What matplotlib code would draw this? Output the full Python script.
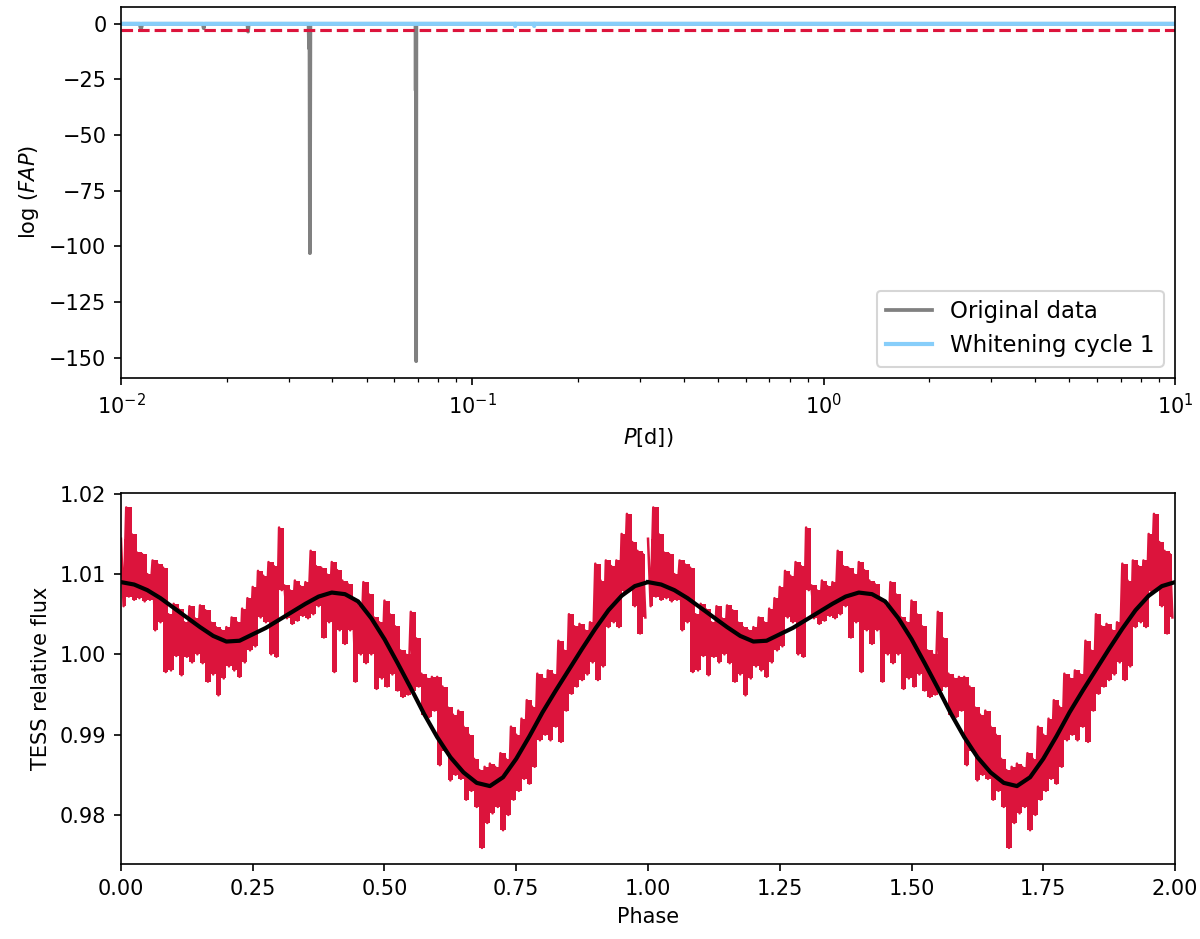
import numpy as np
import matplotlib
matplotlib.use("Agg")
import matplotlib.pyplot as plt

# periodogram (log FAP)
gray_period = [0.01, 0.0113, 0.0114, 0.0115, 0.0171, 0.0172, 0.0173, 0.0229, 0.0230, 0.0231,
               0.0342, 0.0343, 0.0344, 0.0345, 0.0346, 0.0689, 0.0690, 0.0691, 0.0692, 0.0693, 10.0]
gray_logfap = [0, 0, -2.5, 0, 0, -2.0, 0, 0, -3.5, 0,
               0, -11, 0, -103, 0, 0, -30, 0, -151.5, 0, 0]

blue_period = [0.01, 0.1323, 0.1324, 0.1325, 0.1499, 0.1500, 0.1501, 10.0]
blue_logfap = [0, 0, -1.0, 0, 0, -1.0, 0, 0]

fap_threshold = -3

# phase-folded light curve, one cycle (phase 0.00 .. 0.99), upper / lower edge of the scatter
phase = np.arange(100) / 100
flux_hi = [1.0144, 1.0183, 1.0150, 1.0127, 1.0125, 1.0100, 1.0117, 1.0112, 1.0108, 1.0050,
           1.0063, 1.0056, 1.0040, 1.0060, 1.0045, 1.0061, 1.0055, 1.0040, 1.0034, 1.0030,
           1.0034, 1.0046, 1.0040, 1.0057, 1.0070, 1.0084, 1.0104, 1.0098, 1.0115, 1.0110,
           1.0158, 1.0086, 1.0080, 1.0092, 1.0085, 1.0090, 1.0129, 1.0110, 1.0108, 1.0100,
           1.0115, 1.0105, 1.0092, 1.0088, 1.0067, 1.0060, 1.0090, 1.0075, 1.0046, 1.0040,
           1.0067, 1.0050, 1.0035, 1.0005, 1.0000, 1.0053, 1.0020, 0.9976, 0.9970, 0.9972,
           0.9972, 0.9960, 0.9934, 0.9925, 0.9930, 0.9910, 0.9900, 0.9870, 0.9856, 0.9860,
           0.9864, 0.9860, 0.9877, 0.9870, 0.9910, 0.9900, 0.9920, 0.9943, 0.9935, 0.9976,
           0.9970, 0.9980, 0.9975, 1.0017, 1.0005, 1.0050, 1.0035, 1.0038, 1.0030, 1.0040,
           1.0113, 1.0092, 1.0117, 1.0110, 1.0117, 1.0150, 1.0175, 1.0140, 1.0129, 1.0125]
flux_lo = [1.0060, 1.0072, 1.0068, 1.0070, 1.0066, 1.0068, 1.0030, 1.0040, 0.9978, 0.9980,
           0.9998, 0.9974, 0.9997, 0.9990, 1.0000, 0.9989, 0.9966, 0.9975, 0.9949, 0.9970,
           0.9985, 0.9980, 0.9972, 0.9990, 1.0005, 1.0010, 1.0046, 1.0040, 1.0000, 0.9997,
           1.0080, 1.0045, 1.0038, 1.0042, 1.0048, 1.0045, 1.0050, 1.0060, 1.0021, 1.0040,
           0.9978, 1.0030, 1.0013, 1.0030, 0.9966, 1.0000, 0.9989, 1.0000, 0.9957, 0.9970,
           0.9960, 0.9975, 0.9955, 0.9947, 0.9950, 0.9955, 0.9960, 0.9925, 0.9922, 0.9930,
           0.9862, 0.9880, 0.9843, 0.9850, 0.9845, 0.9819, 0.9830, 0.9810, 0.9759, 0.9790,
           0.9802, 0.9810, 0.9781, 0.9800, 0.9819, 0.9830, 0.9845, 0.9839, 0.9860, 0.9893,
           0.9900, 0.9893, 0.9910, 0.9891, 0.9930, 0.9951, 0.9960, 0.9968, 0.9975, 0.9990,
           0.9968, 0.9985, 1.0034, 1.0040, 1.0034, 1.0079, 1.0079, 1.0060, 1.0026, 1.0046]

# fitted model curve
model_phase = np.arange(41) * 0.025
model_flux = [1.0090, 1.0087, 1.0080, 1.0070, 1.0058, 1.0046, 1.0034, 1.0023, 1.0016, 1.0017,
              1.0025, 1.0033, 1.0043, 1.0053, 1.0063, 1.0072, 1.0077, 1.0075, 1.0066, 1.0045,
              1.0019, 0.9989, 0.9958, 0.9926, 0.9897, 0.9872, 0.9853, 0.9840, 0.9836, 0.9847,
              0.9870, 0.9898, 0.9928, 0.9955, 0.9981, 1.0007, 1.0032, 1.0055, 1.0073, 1.0085,
              1.0090]

fig = plt.figure(figsize=(8, 6.26), dpi=150)
ax1 = fig.add_axes([0.1008, 0.5974, 0.8784, 0.3952])
ax2 = fig.add_axes([0.1008, 0.0799, 0.8784, 0.3951])

# --- periodogram
ax1.plot(gray_period, gray_logfap, color="gray", lw=1.8, label="Original data")
ax1.plot(blue_period, blue_logfap, color="lightskyblue", lw=2, label="Whitening cycle 1")
ax1.axhline(fap_threshold, color="crimson", ls="--", lw=1.5)
ax1.set_xscale("log")
ax1.set_xlim(0.01, 10)
ax1.set_xlabel(r"$P$[d])")
ax1.set_ylabel(r"$\log\,(FAP)$")
ax1.legend(loc="lower right", fontsize=11)

# --- folded light curve, two cycles
x_band = np.column_stack([phase, phase + 0.005]).ravel()
y_band = np.column_stack([flux_hi, flux_lo]).ravel()
for shift in [0, 1]:
    ax2.fill_between(phase + shift + 0.005, flux_lo, flux_hi, step="mid",
                     color="crimson", lw=0)
    ax2.plot(x_band + shift, y_band, color="crimson", lw=1.2)
    ax2.plot(model_phase + shift, model_flux, color="black", lw=2)
ax2.set_xlim(0, 2)
ax2.set_ylim(0.9739, 1.0201)
ax2.set_xticks(np.arange(0, 2.01, 0.25))
ax2.set_yticks([0.98, 0.99, 1.00, 1.01, 1.02])
ax2.set_xlabel("Phase")
ax2.set_ylabel("TESS relative flux")

fig.savefig("out.png", dpi=150)
